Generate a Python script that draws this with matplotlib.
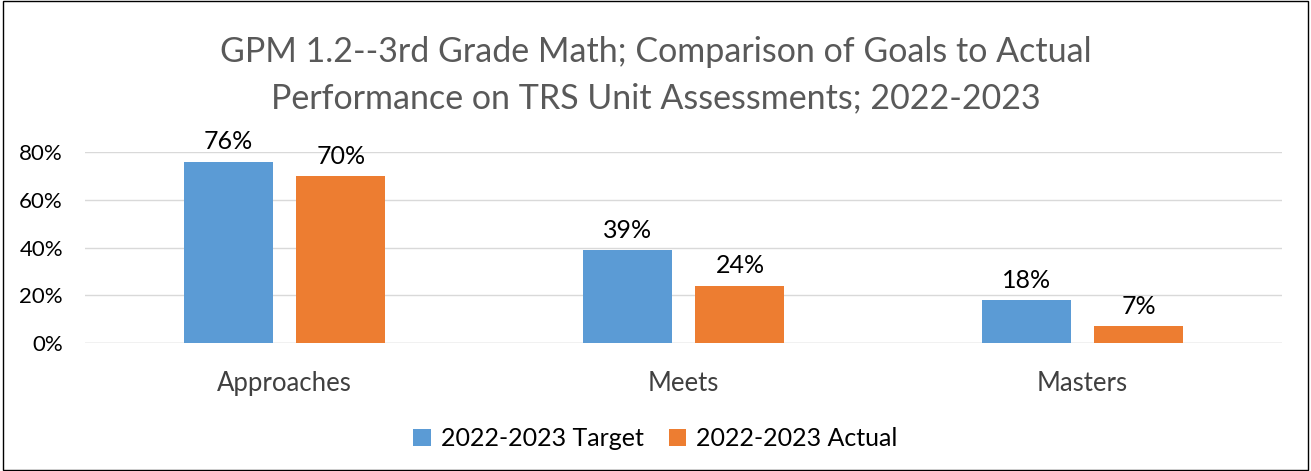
import matplotlib.pyplot as plt
import numpy as np

categories = ['Approaches', 'Meets', 'Masters']
target = [0.76, 0.39, 0.18]
actual = [0.70, 0.24, 0.07]
series_names = ['2022-2023 Target', '2022-2023 Actual']
yticks = [0, 0.2, 0.4, 0.6, 0.8]

plt.rcParams['font.family'] = ['Lato', 'DejaVu Sans']

fig = plt.figure(figsize=(13.11, 4.71), dpi=100)
ax = fig.add_axes([0.065, 0.272, 0.913, 0.405])

x = np.arange(len(categories))
w = 0.223
off = 0.141
b1 = ax.bar(x - off, target, w, color='#5B9BD5', label=series_names[0], zorder=3)
b2 = ax.bar(x + off, actual, w, color='#ED7D31', label=series_names[1], zorder=3)

for bars in (b1, b2):
    for rect in bars:
        v = rect.get_height()
        ax.annotate('{:.0f}%'.format(v * 100), (rect.get_x() + rect.get_width() / 2, v),
                    xytext=(0, 6), textcoords='offset points', ha='center', va='bottom',
                    fontsize=18, color='#000000')

ax.set_xlim(-0.5, 2.5)
ax.set_ylim(0, 0.8)
ax.set_yticks(yticks)
ax.set_yticklabels(['{:.0f}%'.format(t * 100) for t in yticks], fontsize=16)
ax.set_xticks(x)
ax.set_xticklabels(categories, fontsize=18.5, color='#404040')
ax.tick_params(axis='x', length=0, pad=20)
ax.tick_params(axis='y', length=0, pad=16)
ax.yaxis.grid(True, color='#D9D9D9', linewidth=1, zorder=0)
for s in ax.spines.values():
    s.set_visible(False)
ax.axhline(0, color='#D9D9D9', linewidth=1, zorder=1)

fig.text(0.5, 0.84, 'GPM 1.2--3rd Grade Math; Comparison of Goals to Actual\nPerformance on TRS Unit Assessments; 2022-2023',
         ha='center', va='center', fontsize=24.5, color='#595959', linespacing=1.55)

fig.legend(handles=[b1, b2], loc='center', bbox_to_anchor=(0.5, 0.068), ncol=2, frameon=False,
           fontsize=18, handlelength=0.7, handleheight=0.7, columnspacing=1.0, handletextpad=0.4)

border = plt.Rectangle((0.002, 0.002), 0.996, 0.996, transform=fig.transFigure, fill=False,
                       edgecolor='black', linewidth=1)
fig.patches.append(border)

fig.savefig('out.png', dpi=100)
